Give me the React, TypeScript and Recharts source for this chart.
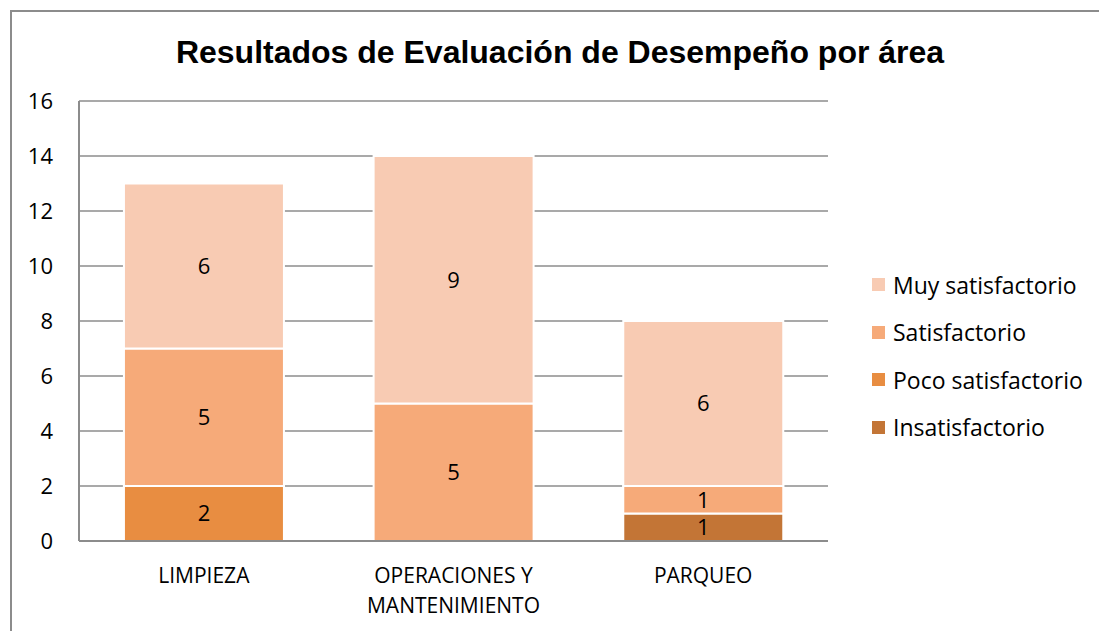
import { BarChart, Bar, XAxis, YAxis, CartesianGrid, LabelList, Text } from "recharts";

const areas = ["LIMPIEZA", "OPERACIONES Y MANTENIMIENTO", "PARQUEO"];
const insatisfactorio = [0, 0, 1];
const pocoSatisfactorio = [2, 0, 0];
const satisfactorio = [5, 5, 1];
const muySatisfactorio = [6, 9, 6];
const yTicks = [0, 2, 4, 6, 8, 10, 12, 14, 16];

const series = [
  { key: "insat", name: "Insatisfactorio", color: "#C37536" },
  { key: "poco", name: "Poco satisfactorio", color: "#E88D41" },
  { key: "sat", name: "Satisfactorio", color: "#F6AA79" },
  { key: "muy", name: "Muy satisfactorio", color: "#F8CBB3" },
];

const data = areas.map((area, i) => ({
  area,
  insat: insatisfactorio[i],
  poco: pocoSatisfactorio[i],
  sat: satisfactorio[i],
  muy: muySatisfactorio[i],
}));

const font = "'Open Sans', 'Noto Sans', sans-serif";

function AreaTick(props: any) {
  const { x, y, payload } = props;
  return (
    <Text
      x={x}
      y={y}
      width={210}
      textAnchor="middle"
      verticalAnchor="start"
      fontSize={21}
      fill="#000"
      fontFamily={font}
      lineHeight={30}
    >
      {payload.value}
    </Text>
  );
}

const hideZero = (v: any) => (v ? v : "");

export default function App() {
  const legendItems = [...series].reverse();
  return (
    <div style={{ position: "absolute", left: 0, top: 0, width: 1099, height: 631, background: "#fff", overflow: "hidden" }}>
      <div
        style={{
          position: "absolute",
          left: 10,
          top: 10,
          width: 1089,
          height: 621,
          borderLeft: "2px solid #8c8c8c",
          borderTop: "2px solid #8c8c8c",
        }}
      />
      <div
        style={{
          position: "absolute",
          left: 0,
          width: 1120,
          top: 34,
          textAlign: "center",
          fontFamily: "'Liberation Sans', Arial, sans-serif",
          fontWeight: "bold",
          fontSize: 32,
          color: "#000",
        }}
      >
        Resultados de Evaluación de Desempeño por área
      </div>
      <BarChart
        width={1099}
        height={631}
        data={data}
        margin={{ top: 101, right: 271, left: 0, bottom: 0 }}
        barCategoryGap="18%"
        style={{ position: "absolute", left: 0, top: 0 }}
      >
        <CartesianGrid vertical={false} stroke="#8c8c8c" strokeWidth={1.5} />
        <XAxis
          dataKey="area"
          height={90}
          tick={<AreaTick />}
          tickLine={false}
          axisLine={{ stroke: "#8c8c8c", strokeWidth: 2 }}
          tickMargin={21}
          interval={0}
        />
        <YAxis
          width={79}
          domain={[0, 16]}
          ticks={yTicks}
          tickLine={false}
          tickSize={0}
          tickMargin={26}
          axisLine={{ stroke: "#8c8c8c", strokeWidth: 2 }}
          tick={{ fontSize: 22, fill: "#000", fontFamily: font }}
        />
        {series.map((s) => (
          <Bar
            key={s.key}
            dataKey={s.key}
            name={s.name}
            stackId="a"
            fill={s.color}
            stroke="#fff"
            strokeWidth={2}
            isAnimationActive={false}
          >
            <LabelList
              dataKey={s.key}
              position="center"
              formatter={hideZero}
              style={{ fontSize: 22, fill: "#000", fontFamily: font }}
            />
          </Bar>
        ))}
      </BarChart>
      <div style={{ position: "absolute", left: 872, top: 261, fontFamily: font, fontSize: 23, color: "#000" }}>
        {legendItems.map((s) => (
          <div key={s.key} style={{ display: "flex", alignItems: "center", height: 47.5 }}>
            <span style={{ width: 13, height: 13, background: s.color, marginRight: 8 }} />
            {s.name}
          </div>
        ))}
      </div>
    </div>
  );
}
